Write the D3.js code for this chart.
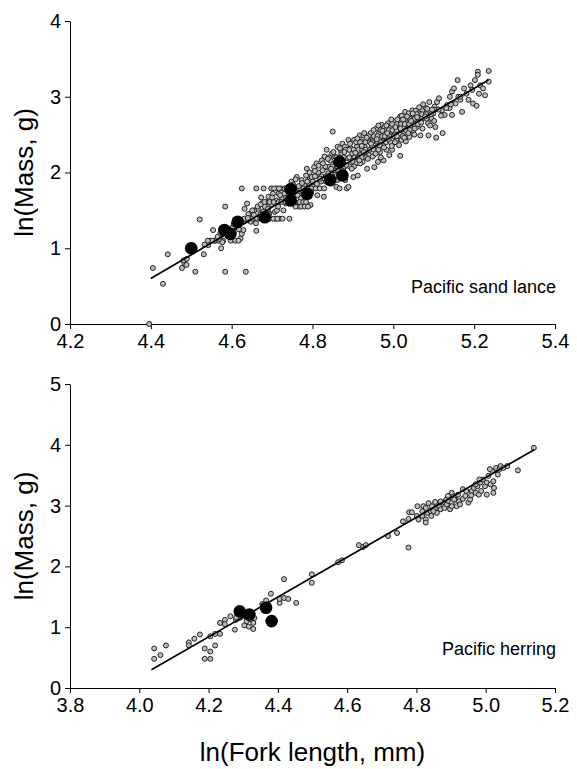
<!DOCTYPE html>
<html><head><meta charset="utf-8">
<script src="https://cdn.jsdelivr.net/npm/d3@7"></script>
<style>
body{margin:0;background:#fff}
svg{display:block}
text{font-family:"Liberation Sans",Arial,sans-serif;fill:#000}
</style>
</head><body>
<svg id="c" width="577" height="769"></svg>
<script>
// ---------- DATA ----------
const topXTicks = [4.2, 4.4, 4.6, 4.8, 5.0, 5.2, 5.4];
const topYTicks = [0, 1, 2, 3, 4];
const botXTicks = [3.8, 4.0, 4.2, 4.4, 4.6, 4.8, 5.0, 5.2];
const botYTicks = [0, 1, 2, 3, 4, 5];

const sandLanceSmall = [
[4.396,0.00],[4.405,0.74],[4.43,0.53],[4.442,0.92],[4.477,0.74],[4.483,0.80],[4.488,0.78],[4.481,0.84],[4.489,0.86],[4.51,0.69],
[4.521,1.38],[4.531,0.92],[4.542,1.04],[4.547,1.10],[4.554,1.24],[4.561,1.10],[4.568,1.10],[4.574,1.00],[4.584,1.55],[4.584,0.69],
[4.593,1.24],[4.625,1.79],[4.635,0.69],[4.622,1.13],[4.625,1.19],[4.629,1.24],[4.632,1.52],[4.638,1.59],[4.638,1.37],[4.647,1.46],
[4.647,1.35],[4.656,1.50],[4.661,1.79],[4.661,1.23],[4.666,1.52],[4.673,1.67],[4.675,1.59],[4.679,1.79],[4.682,1.55],[4.687,1.61],
[4.691,1.68],[4.693,1.46],[4.698,1.79],[4.698,1.58],[4.702,1.72],[4.707,1.48],[4.709,1.39],[4.711,1.79],[4.711,1.63],[4.716,1.72],
[4.719,1.39],[4.722,1.79],[4.725,1.66],[4.730,1.72],[4.731,1.79],[4.734,1.59],[4.743,1.39],[4.739,1.66],[4.748,1.88],[4.752,1.68],
[4.757,1.74],[4.761,1.94],[4.764,1.59],[4.766,1.55],[4.771,1.66],[4.773,1.90],[4.775,1.74],[4.780,1.83],[4.784,1.96],[4.786,2.05],
[4.792,1.90],[4.795,1.57],[4.798,1.94],[4.803,1.81],[4.804,2.07],[4.810,2.12],[4.812,1.70],[4.816,1.96],[4.821,1.88],[4.823,2.16],
[4.825,2.03],[4.828,1.68],[4.830,2.21],[4.835,2.30],[4.835,2.07],[4.839,1.99],[4.844,2.16],[4.848,2.25],[4.850,2.54],[4.853,2.03],
[4.856,2.21],[4.859,1.81],[4.862,2.34],[4.865,2.12],[4.867,1.79],[4.871,2.25],[4.874,2.38],[4.876,2.05],[4.880,2.34],[4.885,1.79],
[4.887,2.19],[4.889,1.81],[4.889,2.43],[4.894,2.32],[4.898,2.25],[4.901,1.94],[4.903,2.43],[4.908,2.12],[4.910,2.34],[4.912,1.96],
[4.917,2.49],[4.919,2.23],[4.921,2.41],[4.924,2.14],[4.926,2.49],[4.929,2.34],[4.932,2.27],[4.935,2.05],[4.938,2.43],[4.940,2.23],
[4.944,2.52],[4.947,2.34],[4.949,2.21],[4.953,2.45],[4.953,2.07],[4.958,2.58],[4.960,2.34],[4.962,2.14],[4.965,2.52],[4.967,2.27],
[4.971,2.63],[4.974,2.41],[4.976,2.16],[4.978,2.60],[4.981,2.47],[4.983,2.30],[4.987,2.65],[4.990,2.23],[4.992,2.52],[4.994,2.60],
[4.999,2.38],[5.002,2.67],[5.003,2.52],[5.008,2.43],[5.011,2.63],[5.013,2.56],[5.017,2.22],[5.017,2.74],[5.020,2.43],[5.022,2.65],
[5.026,2.52],[5.029,2.80],[5.031,2.41],[5.033,2.69],[5.035,2.58],[5.038,2.78],[5.040,2.47],[5.042,2.71],[5.045,2.63],[5.047,2.82],
[5.049,2.54],[5.051,2.76],[5.054,2.67],[5.056,2.82],[5.058,2.60],[5.063,2.78],[5.066,2.71],[5.067,2.49],[5.072,2.82],[5.076,2.76],
[5.081,2.85],[5.086,2.65],[5.087,2.49],[5.090,2.80],[5.095,2.71],[5.099,2.78],[5.102,2.87],[5.104,2.60],[5.106,2.46],[5.108,2.93],
[5.113,2.98],[5.120,2.82],[5.122,2.52],[5.127,2.76],[5.133,2.89],[5.139,2.85],[5.140,3.00],[5.145,2.76],[5.145,3.07],[5.150,3.11],
[5.154,2.91],[5.159,3.22],[5.161,3.00],[5.166,2.96],[5.170,2.80],[5.175,3.11],[5.181,3.04],[5.186,2.96],[5.191,3.15],[5.195,3.09],
[5.197,2.91],[5.202,3.22],[5.206,2.88],[5.209,3.33],[5.212,3.04],[5.215,3.15],[5.222,3.11],[5.227,3.02],[5.236,3.34],[5.236,3.20],
[5.209,3.29],[5.166,3.00],
[4.558,1.10],[4.571,1.12],[4.579,1.10],[4.598,1.10],[4.609,1.10],[4.617,1.10],[4.591,1.25],[4.603,1.28],[4.612,1.30],[4.631,1.39],
[4.642,1.39],[4.652,1.39],[4.663,1.39],[4.671,1.39],[4.684,1.39],[4.694,1.39],[4.703,1.39],[4.713,1.39],[4.726,1.39],[4.651,1.50],
[4.664,1.55],[4.672,1.58],[4.681,1.61],[4.694,1.61],[4.704,1.61],[4.716,1.61],[4.723,1.61],[4.733,1.61],[4.746,1.61],[4.756,1.61],
[4.768,1.61],[4.777,1.61],[4.784,1.61],[4.758,1.55],[4.772,1.55],[4.781,1.55],[4.789,1.55],[4.705,1.79],[4.717,1.79],[4.736,1.79],
[4.744,1.79],[4.753,1.79],[4.762,1.79],[4.769,1.79],[4.778,1.79],[4.789,1.79],[4.797,1.79],[4.808,1.79],[4.818,1.79],[4.829,1.79],
[4.763,1.70],[4.783,1.72],[4.791,1.85],[4.801,1.88],[4.811,1.85],[4.822,1.95],[4.806,1.95],[4.814,2.00],[4.833,1.95],[4.842,1.95],
[4.851,1.95],[4.858,1.95],[4.832,2.08],[4.843,2.08],[4.849,2.08],[4.861,2.08],[4.872,2.08],[4.879,2.08],[4.892,2.08],[4.903,2.08],
[4.841,2.20],[4.859,2.20],[4.868,2.20],[4.877,2.20],[4.891,2.20],[4.904,2.20],[4.913,2.20],[4.923,2.20],[4.933,2.20],[4.869,2.30],
[4.882,2.30],[4.891,2.30],[4.902,2.30],[4.914,2.30],[4.923,2.30],[4.931,2.30],[4.942,2.30],[4.951,2.30],[4.963,2.30],[4.908,2.40],
[4.918,2.40],[4.931,2.40],[4.942,2.40],[4.948,2.40],[4.962,2.40],[4.969,2.40],[4.982,2.40],[4.993,2.40],[5.004,2.40],[4.939,2.48],
[4.952,2.48],[4.961,2.48],[4.972,2.48],[4.979,2.48],[4.991,2.48],[5.001,2.48],[5.009,2.48],[5.023,2.48],[4.968,2.56],[4.983,2.56],
[4.989,2.56],[4.998,2.56],[5.008,2.56],[5.019,2.56],[5.031,2.56],[5.041,2.56],[4.997,2.64],[5.009,2.64],[5.019,2.64],[5.028,2.64],
[5.039,2.64],[5.052,2.64],[5.061,2.64],[5.031,2.71],[5.041,2.71],[5.053,2.71],[5.061,2.71],[5.071,2.71],[5.082,2.71],[5.058,2.77],
[5.071,2.77],[5.081,2.77],[5.093,2.77],[5.103,2.83],[5.112,2.83],[5.021,2.75],[5.052,2.50],[5.072,2.58],[4.899,2.15],[4.918,2.12],
[4.881,1.90],[4.861,1.90],[4.969,2.20],[4.997,2.30],[4.983,2.62],[4.963,2.62],[4.928,2.52],[5.091,2.62],[5.101,2.68],[5.118,2.75],
[5.131,2.85],[5.142,2.90],[4.741,1.70],[4.728,1.50],[4.712,1.50],[4.692,1.45],[4.671,1.45],[4.641,1.45],[4.618,1.25],[4.572,1.20],
[4.552,1.10],[4.533,1.05],[4.541,1.10],
[4.752,1.84],[4.758,1.91],[4.766,1.82],[4.774,1.86],[4.779,1.70],[4.787,1.88],[4.793,2.00],[4.797,1.74],[4.806,2.02],[4.815,2.09],
[4.819,1.92],[4.826,2.12],[4.833,1.88],[4.838,2.18],[4.846,2.05],[4.852,2.27],[4.857,2.13],[4.864,2.02],[4.868,2.32],[4.873,2.15],
[4.879,2.27],[4.884,2.10],[4.893,2.38],[4.897,2.05],[4.906,2.26],[4.911,2.45],[4.916,2.16],[4.922,2.35],[4.927,2.27],[4.934,2.46],
[4.937,2.18],[4.945,2.38],[4.951,2.56],[4.956,2.25],[4.959,2.44],[4.966,2.36],[4.973,2.55],[4.977,2.33],[4.985,2.52],[4.988,2.44],
[4.995,2.70],[4.996,2.35],[5.005,2.60],[5.010,2.70],[5.014,2.36],[5.018,2.58],[5.024,2.70],[5.027,2.46],[5.034,2.74],[5.037,2.52],
[5.044,2.68],[5.048,2.78],[5.053,2.58],[5.059,2.73],[5.064,2.86],[5.069,2.66],[5.074,2.90],[5.079,2.74],[5.084,2.84],[5.089,2.93],
[5.096,2.83],[4.690,1.52],[4.700,1.67],[4.715,1.55],[4.720,1.70],[4.735,1.67],[4.745,1.74],[4.640,1.40],[4.655,1.44],[4.660,1.33],
[4.678,1.48],[4.600,1.17],[4.605,1.32],[4.590,1.16],[4.565,1.15],[4.577,1.08]
];
const sandLanceLarge = [
[4.50,1.00],[4.582,1.24],[4.597,1.19],[4.615,1.35],[4.682,1.41],[4.746,1.78],[4.746,1.63],[4.787,1.72],[4.844,1.90],[4.867,2.14],[4.874,1.96]
];
const sandLanceFit = [[4.40,0.60],[5.235,3.22]];

const herringSmall = [
[4.043,0.65],[4.043,0.48],[4.061,0.54],[4.077,0.70],[4.143,0.75],[4.143,0.70],[4.159,0.81],[4.175,0.88],[4.189,0.65],[4.189,0.48],
[4.205,0.60],[4.205,0.48],[4.219,0.70],[4.205,0.85],[4.219,0.89],[4.233,0.89],[4.233,1.07],[4.247,1.12],[4.247,1.05],[4.263,1.18],
[4.276,0.96],[4.279,1.12],[4.29,1.15],[4.303,1.03],[4.316,1.01],[4.329,0.97],[4.329,1.07],[4.332,1.15],[4.30,1.18],[4.31,1.10],
[4.32,1.13],[4.28,1.16],[4.355,1.38],[4.366,1.44],[4.38,1.55],[4.405,1.40],[4.405,1.465],[4.418,1.79],[4.418,1.48],[4.43,1.465],
[4.453,1.40],[4.498,1.87],[4.498,1.73],[4.574,2.07],[4.585,2.10],[4.634,2.35],[4.646,2.32],[4.654,2.35],[4.718,2.50],[4.744,2.55],
[4.761,2.74],[4.777,2.78],[4.777,2.31],[4.779,2.89],[4.787,2.89],
[4.801,2.83],[4.803,2.99],[4.806,2.77],[4.817,2.91],[4.817,2.83],[4.820,2.99],[4.827,2.96],[4.827,2.77],[4.827,2.72],[4.831,2.88],
[4.835,3.04],[4.841,2.91],[4.843,2.83],[4.845,2.99],[4.854,3.06],[4.856,2.96],[4.859,2.88],[4.865,2.99],[4.870,2.94],[4.875,3.05],
[4.881,2.96],[4.886,3.10],[4.888,3.02],[4.891,3.16],[4.894,3.07],[4.897,2.94],[4.902,3.21],[4.902,3.05],[4.907,3.15],[4.913,3.10],
[4.916,2.99],[4.920,3.18],[4.923,3.07],[4.926,3.02],[4.934,3.27],[4.934,3.11],[4.941,3.16],[4.950,3.05],[4.955,3.10],[4.960,3.24],
[4.966,3.29],[4.971,3.21],[4.976,3.32],[4.980,3.18],[4.984,3.38],[4.987,3.24],[4.992,3.43],[4.998,3.32],[5.003,3.38],[5.008,3.49],
[5.014,3.35],[5.019,3.57],[5.022,3.21],[5.024,3.29],[5.030,3.62],[5.035,3.51],[5.040,3.60],[5.043,3.65],[5.051,3.62],[5.012,3.60],
[5.022,3.40],[5.003,3.18],[4.982,3.43],[5.062,3.65],[5.093,3.58],[5.139,3.95],[4.909,3.10],[4.849,2.91],[4.870,3.07],[4.902,2.99],
[4.944,3.24],[4.958,3.17],[4.971,3.35]
];
const herringLarge = [[4.290,1.26],[4.318,1.21],[4.366,1.32],[4.382,1.10]];
const herringFit = [[4.035,0.30],[5.14,3.92]];

const panels = [
  {name:"Pacific sand lance", xDom:[4.2,5.4], yDom:[0,4], xTicks:topXTicks, yTicks:topYTicks,
   yRange:[324,21], small:sandLanceSmall, large:sandLanceLarge, fit:sandLanceFit, labelY:293, showXTitle:false},
  {name:"Pacific herring", xDom:[3.8,5.2], yDom:[0,5], xTicks:botXTicks, yTicks:botYTicks,
   yRange:[688,384], small:herringSmall, large:herringLarge, fit:herringFit, labelY:655, showXTitle:true}
];

// ---------- DRAW ----------
const svg = d3.select("#c");
const xRange = [70, 555];

panels.forEach(p => {
  const x = d3.scaleLinear().domain(p.xDom).range(xRange);
  const y = d3.scaleLinear().domain(p.yDom).range(p.yRange);
  const g = svg.append("g");

  const xAxis = d3.axisBottom(x).tickValues(p.xTicks).tickFormat(d3.format(".1f"))
      .tickSizeInner(5).tickSizeOuter(0).tickPadding(5);
  const yAxis = d3.axisLeft(y).tickValues(p.yTicks).tickFormat(d3.format("d"))
      .tickSizeInner(5).tickSizeOuter(0).tickPadding(4);

  const gx = g.append("g").attr("transform", `translate(0,${p.yRange[0]})`).call(xAxis);
  const gy = g.append("g").attr("transform", `translate(${xRange[0]},0)`).call(yAxis);
  [gx, gy].forEach(a => {
    a.selectAll("path,line").attr("stroke", "#000").attr("stroke-width", 1);
    a.selectAll("text").attr("font-size", 20).attr("font-family", '"Liberation Sans", Arial, sans-serif').attr("fill", "#000");
  });

  // small points
  g.append("g").selectAll("circle").data(p.small).join("circle")
    .attr("cx", d => x(d[0])).attr("cy", d => y(d[1])).attr("r", 2.5)
    .attr("fill", "#bdbdbd").attr("stroke", "#222").attr("stroke-width", 1);

  // regression line
  g.append("path").datum(p.fit)
    .attr("d", d3.line().x(d => x(d[0])).y(d => y(d[1])))
    .attr("stroke", "#000").attr("stroke-width", 1.7).attr("fill", "none");

  // large points
  g.append("g").selectAll("circle").data(p.large).join("circle")
    .attr("cx", d => x(d[0])).attr("cy", d => y(d[1])).attr("r", 6.3)
    .attr("fill", "#000");

  // species label
  g.append("text").attr("x", 556).attr("y", p.labelY).attr("text-anchor", "end")
    .attr("font-size", 18).text(p.name);

  // y title
  const cy = (p.yRange[0] + p.yRange[1]) / 2;
  g.append("text").attr("transform", `translate(33,${cy}) rotate(-90)`)
    .attr("text-anchor", "middle").attr("font-size", 26).text("ln(Mass, g)");

  if (p.showXTitle) {
    g.append("text").attr("x", (xRange[0] + xRange[1]) / 2).attr("y", 761)
      .attr("text-anchor", "middle").attr("font-size", 26).text("ln(Fork length, mm)");
  }
});
</script>
</body></html>
